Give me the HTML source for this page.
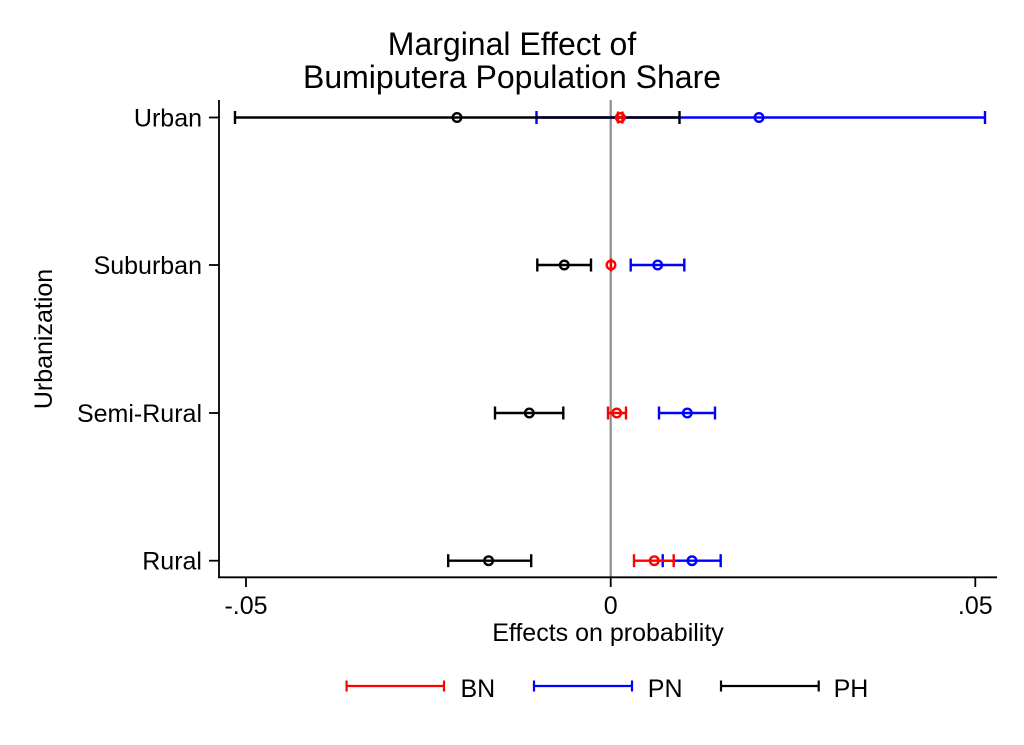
<!DOCTYPE html>
<html>
<head>
<meta charset="utf-8">
<style>
  html, body { margin: 0; padding: 0; background: #ffffff; }
  svg { display: block; }
  text { font-family: "Liberation Sans", Arial, Helvetica, sans-serif; fill: #000; }
</style>
</head>
<body>
<svg width="1024" height="745" viewBox="0 0 1024 745" xmlns="http://www.w3.org/2000/svg">
  <rect x="0" y="0" width="1024" height="745" fill="#ffffff"/>

  <!-- Title -->
  <text x="512" y="55" font-size="32" text-anchor="middle">Marginal Effect of</text>
  <text x="512" y="88" font-size="32" text-anchor="middle">Bumiputera Population Share</text>

  <!-- Zero reference line -->
  <line x1="610.7" y1="100" x2="610.7" y2="577" stroke="#8c8c8c" stroke-width="2.2"/>

  <!-- Axes -->
  <line x1="219" y1="100" x2="219" y2="578" stroke="#000" stroke-width="1.8"/>
  <line x1="218.1" y1="577.3" x2="997" y2="577.3" stroke="#000" stroke-width="1.8"/>

  <!-- Y ticks -->
  <g stroke="#000" stroke-width="1.8">
    <line x1="209" y1="117.5" x2="219" y2="117.5"/>
    <line x1="209" y1="265" x2="219" y2="265"/>
    <line x1="209" y1="413" x2="219" y2="413"/>
    <line x1="209" y1="560.7" x2="219" y2="560.7"/>
  </g>
  <g font-size="25" text-anchor="end">
    <text x="202" y="126.5">Urban</text>
    <text x="202" y="274">Suburban</text>
    <text x="202" y="422">Semi-Rural</text>
    <text x="202" y="569.7">Rural</text>
  </g>

  <!-- X ticks -->
  <g stroke="#000" stroke-width="1.8">
    <line x1="246" y1="577" x2="246" y2="587"/>
    <line x1="610.7" y1="577" x2="610.7" y2="587"/>
    <line x1="975.3" y1="577" x2="975.3" y2="587"/>
  </g>
  <g font-size="25" text-anchor="middle">
    <text x="246" y="614">-.05</text>
    <text x="610.7" y="614">0</text>
    <text x="975.3" y="614">.05</text>
  </g>

  <!-- Axis titles -->
  <text x="608" y="641" font-size="25" text-anchor="middle">Effects on probability</text>
  <text x="0" y="0" font-size="25" text-anchor="middle" transform="translate(52,339) rotate(-90)">Urbanization</text>

  <!-- Series: PN (blue) -->
  <g stroke="#0000ff" stroke-width="2.4" fill="none">
    <line x1="536.5" y1="117.5" x2="985" y2="117.5"/>
    <line x1="536.5" y1="111" x2="536.5" y2="124"/>
    <line x1="985" y1="111" x2="985" y2="124"/>
    <circle cx="759" cy="117.5" r="4.3"/>

    <line x1="630.7" y1="265" x2="684.3" y2="265"/>
    <line x1="630.7" y1="258.5" x2="630.7" y2="271.5"/>
    <line x1="684.3" y1="258.5" x2="684.3" y2="271.5"/>
    <circle cx="657.7" cy="265" r="4.3"/>

    <line x1="659" y1="413" x2="715" y2="413"/>
    <line x1="659" y1="406.5" x2="659" y2="419.5"/>
    <line x1="715" y1="406.5" x2="715" y2="419.5"/>
    <circle cx="687.3" cy="413" r="4.3"/>

    <line x1="662.7" y1="560.7" x2="720.7" y2="560.7"/>
    <line x1="662.7" y1="554.2" x2="662.7" y2="567.2"/>
    <line x1="720.7" y1="554.2" x2="720.7" y2="567.2"/>
    <circle cx="692" cy="560.7" r="4.3"/>
  </g>

  <!-- Series: PH (black) -->
  <g stroke="#000000" stroke-width="2.4" fill="none">
    <line x1="235" y1="117.5" x2="679.5" y2="117.5"/>
    <line x1="235" y1="111" x2="235" y2="124"/>
    <line x1="679.5" y1="111" x2="679.5" y2="124"/>
    <circle cx="457" cy="117.5" r="4.3"/>

    <line x1="537.3" y1="265" x2="591" y2="265"/>
    <line x1="537.3" y1="258.5" x2="537.3" y2="271.5"/>
    <line x1="591" y1="258.5" x2="591" y2="271.5"/>
    <circle cx="564.3" cy="265" r="4.3"/>

    <line x1="495" y1="413" x2="563.3" y2="413"/>
    <line x1="495" y1="406.5" x2="495" y2="419.5"/>
    <line x1="563.3" y1="406.5" x2="563.3" y2="419.5"/>
    <circle cx="529.3" cy="413" r="4.3"/>

    <line x1="448.2" y1="560.7" x2="531.2" y2="560.7"/>
    <line x1="448.2" y1="554.2" x2="448.2" y2="567.2"/>
    <line x1="531.2" y1="554.2" x2="531.2" y2="567.2"/>
    <circle cx="488.6" cy="560.7" r="4.3"/>
  </g>

  <!-- Series: BN (red) -->
  <g stroke="#ff0000" stroke-width="2.4" fill="none">
    <line x1="618" y1="117.5" x2="622.5" y2="117.5"/>
    <line x1="618" y1="111.5" x2="618" y2="123.5"/>
    <line x1="622.5" y1="111.5" x2="622.5" y2="123.5"/>
    <circle cx="620.3" cy="117.5" r="4.3"/>

    <line x1="610" y1="265" x2="612" y2="265"/>
    <line x1="611" y1="258.5" x2="611" y2="271.5"/>
    <circle cx="611" cy="265" r="4.3"/>

    <line x1="608" y1="413" x2="626" y2="413"/>
    <line x1="608" y1="406.5" x2="608" y2="419.5"/>
    <line x1="626" y1="406.5" x2="626" y2="419.5"/>
    <circle cx="616.7" cy="413" r="4.3"/>

    <line x1="634" y1="560.7" x2="673.7" y2="560.7"/>
    <line x1="634" y1="554.2" x2="634" y2="567.2"/>
    <line x1="673.7" y1="554.2" x2="673.7" y2="567.2"/>
    <circle cx="654.3" cy="560.7" r="4.3"/>
  </g>

  <!-- Legend -->
  <g stroke-width="2.2" fill="none">
    <g stroke="#ff0000">
      <line x1="346.6" y1="686" x2="444" y2="686"/>
      <line x1="346.6" y1="680.5" x2="346.6" y2="691.5"/>
      <line x1="444" y1="680.5" x2="444" y2="691.5"/>
    </g>
    <g stroke="#0000ff">
      <line x1="534" y1="686" x2="632" y2="686"/>
      <line x1="534" y1="680.5" x2="534" y2="691.5"/>
      <line x1="632" y1="680.5" x2="632" y2="691.5"/>
    </g>
    <g stroke="#000000">
      <line x1="721" y1="686" x2="818.7" y2="686"/>
      <line x1="721" y1="680.5" x2="721" y2="691.5"/>
      <line x1="818.7" y1="680.5" x2="818.7" y2="691.5"/>
    </g>
  </g>
  <g font-size="25">
    <text x="460.5" y="697">BN</text>
    <text x="647.8" y="697">PN</text>
    <text x="833.6" y="697">PH</text>
  </g>
</svg>
</body>
</html>
